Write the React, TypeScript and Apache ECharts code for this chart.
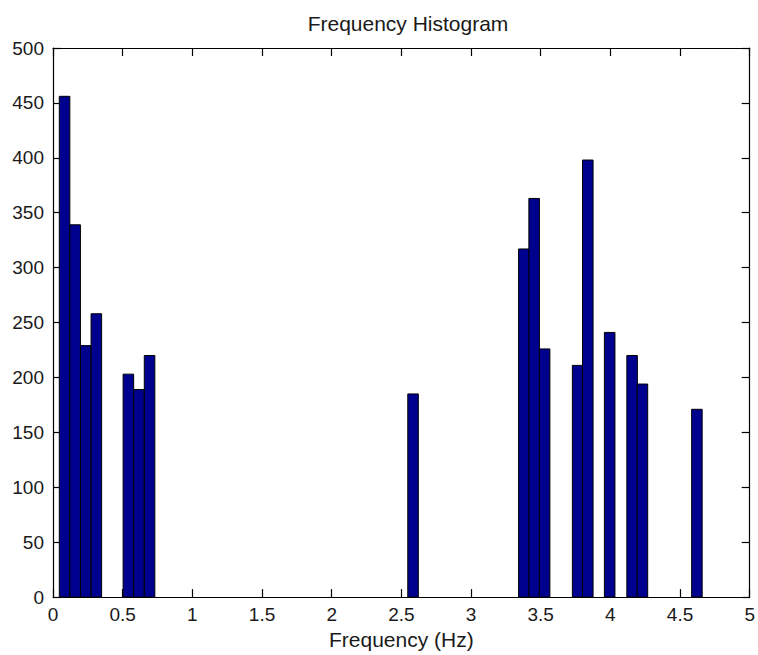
import React, { useEffect, useRef } from "react";
import * as echarts from "echarts";

// Histogram bins: bar centres (Hz) and counts
const binCenters: number[] = [
  0.083, 0.159, 0.235, 0.311, 0.541, 0.617, 0.693, 2.584, 3.379, 3.453, 3.528,
  3.765, 3.838, 3.995, 4.156, 4.23, 4.621,
];
const counts: number[] = [
  456, 339, 229, 258, 203, 189, 220, 185, 317, 363, 226, 211, 398, 241, 220, 194, 171,
];
const binWidth = 0.0757;

const xTicks: number[] = [0, 0.5, 1, 1.5, 2, 2.5, 3, 3.5, 4, 4.5, 5];
const yTicks: number[] = [0, 50, 100, 150, 200, 250, 300, 350, 400, 450, 500];

const titleText = "Frequency Histogram";
const xLabel = "Frequency (Hz)";

const FONT = "'Liberation Sans', Arial, Helvetica, sans-serif";

export default function App() {
  const ref = useRef<HTMLDivElement>(null);
  useEffect(() => {
    if (!ref.current) return;
    const chart = echarts.init(ref.current, undefined, { renderer: "svg" });
    const axisLine = { show: true, onZero: false, lineStyle: { color: "#000", width: 1.2 } };
    const tick = { show: true, inside: true, length: 8, lineStyle: { color: "#000", width: 1.2 } };
    const labelStyle = { color: "#1a1a1a", fontSize: 19, fontFamily: FONT };
    chart.setOption({
      animation: false,
      backgroundColor: "#fff",
      title: {
        text: titleText,
        left: 403,
        top: 8,
        textAlign: "center",
        textStyle: { color: "#1a1a1a", fontSize: 21, fontWeight: "normal", fontFamily: FONT },
      },
      grid: { left: 53, right: 6, top: 48, bottom: 56, containLabel: false },
      xAxis: [
        {
          type: "value",
          position: "bottom",
          min: xTicks[0],
          max: xTicks[xTicks.length - 1],
          interval: 0.5,
          axisLine,
          axisTick: tick,
          axisLabel: { ...labelStyle, margin: 8 },
          splitLine: { show: false },
          name: xLabel,
          nameLocation: "middle",
          nameGap: 28,
          nameTextStyle: { color: "#1a1a1a", fontSize: 21, fontFamily: FONT },
        },
        {
          type: "value",
          position: "top",
          min: xTicks[0],
          max: xTicks[xTicks.length - 1],
          interval: 0.5,
          axisLine,
          axisTick: tick,
          axisLabel: { show: false },
          splitLine: { show: false },
        },
      ],
      yAxis: [
        {
          type: "value",
          position: "left",
          min: yTicks[0],
          max: yTicks[yTicks.length - 1],
          interval: 50,
          axisLine,
          axisTick: tick,
          axisLabel: { ...labelStyle, margin: 9 },
          splitLine: { show: false },
        },
        {
          type: "value",
          position: "right",
          min: yTicks[0],
          max: yTicks[yTicks.length - 1],
          interval: 50,
          axisLine,
          axisTick: tick,
          axisLabel: { show: false },
          splitLine: { show: false },
        },
      ],
      series: [
        {
          type: "custom",
          xAxisIndex: 0,
          yAxisIndex: 0,
          data: binCenters.map((c, i) => [c, counts[i]]),
          renderItem: (params: any, api: any) => {
            const x = api.value(0);
            const y = api.value(1);
            const p0 = api.coord([x - binWidth / 2, y]);
            const p1 = api.coord([x + binWidth / 2, 0]);
            return {
              type: "rect",
              shape: { x: p0[0], y: p0[1], width: p1[0] - p0[0], height: p1[1] - p0[1] },
              style: { fill: "#00008F", stroke: "#000", lineWidth: 1 },
            };
          },
        },
      ],
    });
    return () => chart.dispose();
  }, []);
  return (
    <div
      ref={ref}
      style={{ position: "fixed", left: 0, top: 0, width: 758, height: 655, background: "#fff" }}
    />
  );
}
